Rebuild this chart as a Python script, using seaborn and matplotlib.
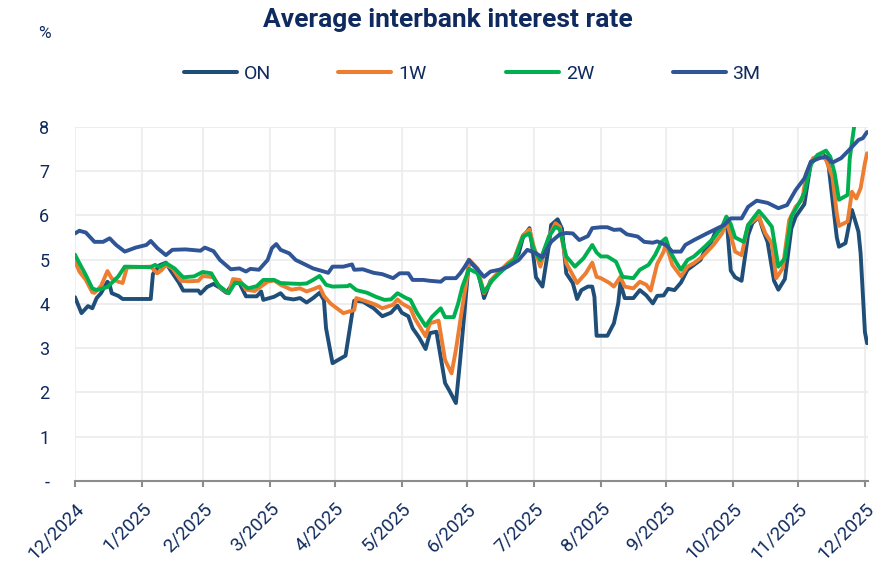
import matplotlib
matplotlib.use("Agg")
import matplotlib.pyplot as plt
import pandas as pd
import seaborn as sns

# ---------------- data ----------------
series_names = ["ON", "1W", "2W", "3M"]
series_colors = ["#1F4E79", "#ED7D31", "#00B050", "#2F5597"]

on_dates = [
    "2024-12-31", "2025-01-03", "2025-01-06", "2025-01-08", "2025-01-10", "2025-01-12", "2025-01-15", "2025-01-16", "2025-01-17", "2025-01-20", "2025-01-22",
    "2025-02-04", "2025-02-05", "2025-02-08", "2025-02-11", "2025-02-13", "2025-02-17", "2025-02-19", "2025-02-26", "2025-02-27",
    "2025-03-02", "2025-03-05", "2025-03-08", "2025-03-11", "2025-03-14", "2025-03-17", "2025-03-20", "2025-03-25", "2025-03-27", "2025-03-28",
    "2025-04-02", "2025-04-05", "2025-04-07", "2025-04-11", "2025-04-14", "2025-04-17", "2025-04-20", "2025-04-23", "2025-04-25", "2025-04-26", "2025-04-29",
    "2025-05-05", "2025-05-09", "2025-05-13", "2025-05-18", "2025-05-22", "2025-05-26", "2025-05-29", "2025-05-31",
    "2025-06-03", "2025-06-05", "2025-06-08", "2025-06-11", "2025-06-13", "2025-06-16", "2025-06-20", "2025-06-22", "2025-06-25", "2025-06-27", "2025-06-29",
    "2025-07-01", "2025-07-05", "2025-07-08", "2025-07-11", "2025-07-15", "2025-07-19", "2025-07-22", "2025-07-24", "2025-07-26", "2025-07-29", "2025-07-30",
    "2025-08-01", "2025-08-04", "2025-08-07", "2025-08-08", "2025-08-11", "2025-08-13", "2025-08-15", "2025-08-18", "2025-08-20", "2025-08-22", "2025-08-25", "2025-08-27", "2025-08-28", "2025-08-29",
    "2025-09-03", "2025-09-06", "2025-09-08", "2025-09-09", "2025-09-11", "2025-09-15", "2025-09-18", "2025-09-21", "2025-09-24", "2025-09-26", "2025-09-29",
    "2025-10-01", "2025-10-04", "2025-10-07", "2025-10-10", "2025-10-13", "2025-10-16", "2025-10-18", "2025-10-21", "2025-10-23", "2025-10-26", "2025-10-28", "2025-10-30",
    "2025-11-01", "2025-11-04", "2025-11-07", "2025-11-09", "2025-11-12", "2025-11-14", "2025-11-16", "2025-11-19", "2025-11-21", "2025-11-24", "2025-11-27", "2025-11-29",
    "2025-12-03", "2025-12-06", "2025-12-09", "2025-12-12", "2025-12-14", "2025-12-16", "2025-12-18", "2025-12-19", "2025-12-22", "2025-12-25", "2025-12-28", "2025-12-29", "2025-12-31", "2026-01-01",
]
on_values = [
    4.15, 3.79, 3.95, 3.90, 4.13, 4.24, 4.50, 4.43, 4.24, 4.18, 4.11,
    4.11, 4.67, 4.87, 4.93, 4.77, 4.48, 4.30, 4.30, 4.23,
    4.38, 4.45, 4.36, 4.25, 4.47, 4.47, 4.17, 4.17, 4.28, 4.09,
    4.16, 4.24, 4.13, 4.10, 4.13, 4.03, 4.13, 4.25, 4.09, 3.45, 2.66,
    2.83, 4.07, 4.05, 3.90, 3.72, 3.80, 3.96, 3.80,
    3.72, 3.45, 3.24, 2.98, 3.34, 3.37, 2.21, 2.04, 1.76, 2.75, 3.83,
    4.97, 4.77, 4.13, 4.52, 4.70, 4.86, 5.01, 5.14, 5.50, 5.71, 5.40,
    4.60, 4.39, 5.33, 5.78, 5.91, 5.70, 4.69, 4.47, 4.11, 4.31, 4.39, 4.39, 4.16, 3.28,
    3.28, 3.56, 4.01, 4.47, 4.13, 4.13, 4.31, 4.19, 4.01, 4.18, 4.19,
    4.34, 4.31, 4.48, 4.77, 4.88, 4.99, 5.20, 5.40, 5.63, 5.72, 5.95, 4.75,
    4.60, 4.52, 5.55, 5.82, 5.97, 5.65, 5.40, 4.52, 4.32, 4.56, 5.70, 5.97,
    6.25, 7.18, 7.30, 7.36, 7.20, 6.35, 5.50, 5.29, 5.37, 6.12, 5.63, 5.14, 3.36, 3.11,
]

w1_dates = [
    "2024-12-31", "2025-01-02", "2025-01-05", "2025-01-08", "2025-01-09", "2025-01-12", "2025-01-15", "2025-01-17", "2025-01-20", "2025-01-22", "2025-01-24",
    "2025-02-04", "2025-02-07", "2025-02-09", "2025-02-11", "2025-02-14", "2025-02-18", "2025-02-22", "2025-02-26", "2025-02-28",
    "2025-03-05", "2025-03-08", "2025-03-12", "2025-03-14", "2025-03-17", "2025-03-20", "2025-03-24", "2025-03-28", "2025-03-30",
    "2025-04-02", "2025-04-05", "2025-04-10", "2025-04-14", "2025-04-17", "2025-04-20", "2025-04-23", "2025-04-25", "2025-04-28",
    "2025-05-04", "2025-05-09", "2025-05-10", "2025-05-15", "2025-05-19", "2025-05-22", "2025-05-27", "2025-05-29", "2025-05-31",
    "2025-06-04", "2025-06-06", "2025-06-11", "2025-06-13", "2025-06-17", "2025-06-20", "2025-06-23", "2025-06-25", "2025-06-28", "2025-06-30",
    "2025-07-01", "2025-07-05", "2025-07-08", "2025-07-12", "2025-07-15", "2025-07-19", "2025-07-22", "2025-07-26", "2025-07-29", "2025-07-31",
    "2025-08-03", "2025-08-07", "2025-08-10", "2025-08-12", "2025-08-15", "2025-08-20", "2025-08-24", "2025-08-27", "2025-08-29", "2025-08-31",
    "2025-09-04", "2025-09-06", "2025-09-09", "2025-09-11", "2025-09-15", "2025-09-18", "2025-09-21", "2025-09-23", "2025-09-26", "2025-09-29", "2025-09-30",
    "2025-10-03", "2025-10-07", "2025-10-10", "2025-10-13", "2025-10-17", "2025-10-22", "2025-10-26", "2025-10-28", "2025-10-30",
    "2025-11-01", "2025-11-04", "2025-11-07", "2025-11-12", "2025-11-15", "2025-11-18", "2025-11-20", "2025-11-23", "2025-11-26", "2025-11-29",
    "2025-12-02", "2025-12-04", "2025-12-07", "2025-12-11", "2025-12-13", "2025-12-16", "2025-12-18", "2025-12-19", "2025-12-23", "2025-12-25", "2025-12-27", "2025-12-29", "2025-12-31", "2026-01-01",
]
w1_values = [
    4.97, 4.73, 4.54, 4.26, 4.25, 4.40, 4.74, 4.57, 4.50, 4.47, 4.82,
    4.84, 4.69, 4.76, 4.88, 4.80, 4.52, 4.51, 4.52, 4.63,
    4.60, 4.37, 4.24, 4.56, 4.54, 4.32, 4.29, 4.43, 4.50,
    4.53, 4.43, 4.32, 4.35, 4.28, 4.33, 4.39, 4.18, 4.01,
    3.79, 3.86, 4.13, 4.05, 3.98, 3.90, 3.98, 4.10, 4.01,
    3.90, 3.67, 3.27, 3.56, 3.62, 2.73, 2.43, 2.96, 3.94, 4.54,
    5.00, 4.80, 4.24, 4.58, 4.73, 4.92, 5.03, 5.55, 5.68, 5.29,
    4.84, 5.52, 5.82, 5.74, 4.92, 4.47, 4.69, 4.93, 4.61, 4.58,
    4.47, 4.39, 4.61, 4.39, 4.35, 4.50, 4.43, 4.30, 4.90, 5.18, 5.35,
    4.88, 4.62, 4.84, 4.92, 5.07, 5.33, 5.59, 5.86, 5.55,
    5.18, 5.10, 5.78, 5.97, 5.59, 5.37, 4.58, 4.80, 5.89, 6.19,
    6.35, 6.95, 7.29, 7.36, 7.25, 6.87, 6.04, 5.76, 5.86, 6.53, 6.38, 6.61, 7.18, 7.40,
]

w2_dates = [
    "2024-12-31", "2025-01-02", "2025-01-05", "2025-01-08", "2025-01-10", "2025-01-15", "2025-01-20", "2025-01-23",
    "2025-02-04", "2025-02-06", "2025-02-08", "2025-02-11", "2025-02-15", "2025-02-19", "2025-02-24", "2025-02-28",
    "2025-03-04", "2025-03-07", "2025-03-12", "2025-03-15", "2025-03-18", "2025-03-21", "2025-03-25", "2025-03-28",
    "2025-04-02", "2025-04-05", "2025-04-09", "2025-04-14", "2025-04-17", "2025-04-20", "2025-04-23", "2025-04-26", "2025-04-29",
    "2025-05-06", "2025-05-07", "2025-05-10", "2025-05-15", "2025-05-19", "2025-05-23", "2025-05-26", "2025-05-29",
    "2025-06-02", "2025-06-04", "2025-06-07", "2025-06-11", "2025-06-14", "2025-06-18", "2025-06-20", "2025-06-24", "2025-06-26", "2025-06-28", "2025-06-30",
    "2025-07-01", "2025-07-05", "2025-07-08", "2025-07-12", "2025-07-15", "2025-07-19", "2025-07-22", "2025-07-26", "2025-07-29", "2025-07-31",
    "2025-08-03", "2025-08-07", "2025-08-10", "2025-08-12", "2025-08-15", "2025-08-19", "2025-08-23", "2025-08-27", "2025-08-29", "2025-08-31",
    "2025-09-03", "2025-09-07", "2025-09-10", "2025-09-15", "2025-09-18", "2025-09-22", "2025-09-25", "2025-09-28", "2025-09-30",
    "2025-10-02", "2025-10-05", "2025-10-07", "2025-10-10", "2025-10-13", "2025-10-18", "2025-10-22", "2025-10-26", "2025-10-28", "2025-10-30",
    "2025-11-01", "2025-11-05", "2025-11-07", "2025-11-12", "2025-11-15", "2025-11-18", "2025-11-21", "2025-11-24", "2025-11-27",
    "2025-12-01", "2025-12-03", "2025-12-06", "2025-12-09", "2025-12-13", "2025-12-15", "2025-12-17", "2025-12-19", "2025-12-23", "2025-12-24", "2025-12-26", "2025-12-28", "2026-01-01",
]
w2_values = [
    5.11, 4.92, 4.65, 4.35, 4.31, 4.38, 4.62, 4.84,
    4.83, 4.88, 4.83, 4.92, 4.80, 4.60, 4.62, 4.72,
    4.69, 4.43, 4.24, 4.48, 4.46, 4.35, 4.40, 4.54,
    4.54, 4.47, 4.46, 4.45, 4.46, 4.54, 4.63, 4.43, 4.39,
    4.40, 4.43, 4.31, 4.25, 4.16, 4.09, 4.10, 4.24,
    4.13, 4.09, 3.80, 3.50, 3.71, 3.90, 3.70, 3.70, 4.00, 4.39, 4.65,
    4.79, 4.69, 4.26, 4.54, 4.69, 4.88, 4.99, 5.52, 5.59, 5.22,
    4.99, 5.52, 5.74, 5.68, 5.07, 4.84, 5.03, 5.33, 5.16, 5.07,
    5.07, 4.95, 4.61, 4.58, 4.77, 4.88, 5.10, 5.40, 5.48,
    5.18, 4.92, 4.77, 4.99, 5.07, 5.29, 5.48, 5.74, 5.97, 5.80,
    5.50, 5.40, 5.78, 6.10, 5.93, 5.74, 4.84, 5.03, 5.97,
    6.31, 6.50, 7.14, 7.36, 7.46, 7.32, 6.95, 6.35, 6.46, 7.29, 8.00, 8.60, 9.00,
]

m3_dates = [
    "2024-12-31", "2025-01-02", "2025-01-05", "2025-01-09", "2025-01-13", "2025-01-16", "2025-01-19", "2025-01-23", "2025-01-28",
    "2025-02-02", "2025-02-04", "2025-02-07", "2025-02-11", "2025-02-14", "2025-02-20", "2025-02-27",
    "2025-03-01", "2025-03-05", "2025-03-08", "2025-03-13", "2025-03-17", "2025-03-20", "2025-03-22", "2025-03-26", "2025-03-30",
    "2025-04-01", "2025-04-03", "2025-04-05", "2025-04-09", "2025-04-12", "2025-04-15", "2025-04-20", "2025-04-25", "2025-04-27", "2025-04-29",
    "2025-05-04", "2025-05-08", "2025-05-09", "2025-05-13", "2025-05-18", "2025-05-22", "2025-05-27", "2025-05-30",
    "2025-06-03", "2025-06-05", "2025-06-10", "2025-06-13", "2025-06-18", "2025-06-20", "2025-06-25", "2025-06-27", "2025-06-29",
    "2025-07-01", "2025-07-05", "2025-07-08", "2025-07-11", "2025-07-15", "2025-07-19", "2025-07-24", "2025-07-28",
    "2025-08-01", "2025-08-04", "2025-08-08", "2025-08-12", "2025-08-15", "2025-08-18", "2025-08-21", "2025-08-25", "2025-08-27", "2025-08-31",
    "2025-09-03", "2025-09-06", "2025-09-09", "2025-09-12", "2025-09-17", "2025-09-20", "2025-09-24", "2025-09-26", "2025-09-30",
    "2025-10-03", "2025-10-07", "2025-10-09", "2025-10-13", "2025-10-19", "2025-10-24", "2025-10-27", "2025-10-30",
    "2025-11-04", "2025-11-07", "2025-11-11", "2025-11-16", "2025-11-21", "2025-11-25", "2025-11-29",
    "2025-12-03", "2025-12-06", "2025-12-10", "2025-12-13", "2025-12-16", "2025-12-20", "2025-12-24", "2025-12-28", "2025-12-30", "2026-01-01",
]
m3_values = [
    5.59, 5.65, 5.61, 5.40, 5.40, 5.48, 5.33, 5.18, 5.27,
    5.33, 5.42, 5.26, 5.10, 5.22, 5.23, 5.20,
    5.27, 5.19, 4.99, 4.78, 4.80, 4.73, 4.79, 4.77, 4.99,
    5.26, 5.35, 5.22, 5.14, 4.99, 4.92, 4.80, 4.73, 4.70, 4.84,
    4.84, 4.89, 4.77, 4.78, 4.70, 4.67, 4.58, 4.69,
    4.69, 4.54, 4.54, 4.52, 4.50, 4.58, 4.58, 4.69, 4.83,
    4.99, 4.78, 4.61, 4.73, 4.77, 4.84, 4.99, 5.22,
    5.14, 5.05, 5.40, 5.57, 5.60, 5.59, 5.44, 5.53, 5.71, 5.73,
    5.73, 5.67, 5.68, 5.57, 5.52, 5.40, 5.38, 5.41, 5.33,
    5.18, 5.18, 5.33, 5.44, 5.59, 5.71, 5.78, 5.93,
    5.93, 6.19, 6.33, 6.28, 6.16, 6.23, 6.57,
    6.83, 7.21, 7.29, 7.32, 7.19, 7.29, 7.49, 7.70, 7.74, 7.88,
]

tick_dates = pd.date_range("2024-12-31", "2025-12-31", freq="ME")
tick_labels = [f"{d.month}/{d.year}" for d in tick_dates]
y_ticks = [0, 1, 2, 3, 4, 5, 6, 7, 8]
y_labels = ["-", "1", "2", "3", "4", "5", "6", "7", "8"]

title = "Average interbank interest rate"
unit_label = "%"

# ---------------- figure ----------------
sns.set_theme(style="white")
plt.rcParams["font.family"] = ["Roboto", "DejaVu Sans"]

navy = "#0f2a5e"
W, H = 884, 563
fig = plt.figure(figsize=(W / 100, H / 100), dpi=100)
ax = fig.add_axes([75 / W, 1 - 481 / H, (868 - 75) / W, (481 - 126.7) / H])

frames = []
for name, d, v in [("ON", on_dates, on_values), ("1W", w1_dates, w1_values),
                   ("2W", w2_dates, w2_values), ("3M", m3_dates, m3_values)]:
    frames.append(pd.DataFrame({"date": pd.to_datetime(d), "rate": v, "series": name}))
df = pd.concat(frames, ignore_index=True)

sns.lineplot(data=df, x="date", y="rate", hue="series", hue_order=series_names,
             palette=dict(zip(series_names, series_colors)), linewidth=2.8,
             estimator=None, ax=ax, legend=True)

handles, labels = ax.get_legend_handles_labels()
ax.get_legend().remove()
legend_x = [183.7, 338, 506, 672.7]   # left edge of each legend entry (px)
for h, lab, lx in zip(handles, labels, legend_x):
    h.set_linewidth(2.9)
    lg = fig.legend([h], [lab], loc="center left", bbox_to_anchor=(lx / W, 1 - 73.5 / H),
                    frameon=False, fontsize=14, handlelength=2.75, handletextpad=0.33,
                    borderpad=0, borderaxespad=0)
    for t in lg.get_texts():
        t.set_color(navy)

ax.set_xlim(pd.Timestamp("2024-12-31"), pd.Timestamp("2026-01-01 10:00"))
ax.set_ylim(0, 8)
ax.set_xticks(tick_dates)
ax.set_xticklabels(tick_labels, rotation=45, ha="right", va="top",
                   rotation_mode="anchor", fontsize=13.5, color=navy)
ax.set_yticks(y_ticks)
ax.set_yticklabels(y_labels, fontsize=13, color=navy)
ax.set_xlabel("")
ax.set_ylabel("")

ax.grid(True, color="#ebebeb", linewidth=1.2)
ax.set_axisbelow(True)
for s in ["top", "right", "left"]:
    ax.spines[s].set_visible(False)
ax.spines["bottom"].set_color("#8c8c8c")
ax.spines["bottom"].set_linewidth(1.5)
ax.tick_params(axis="x", direction="out", length=4, width=1.5, color="#8c8c8c", pad=9.5, bottom=True)
ax.tick_params(axis="y", length=0, pad=18.5)

fig.text(448 / W, 1 - 20 / H, title, ha="center", va="center", fontsize=19,
         fontweight="bold", color=navy)
fig.text(44 / W, 1 - 33 / H, unit_label, ha="center", va="center", fontsize=12.5, color=navy)

fig.savefig("out.png", dpi=100)
